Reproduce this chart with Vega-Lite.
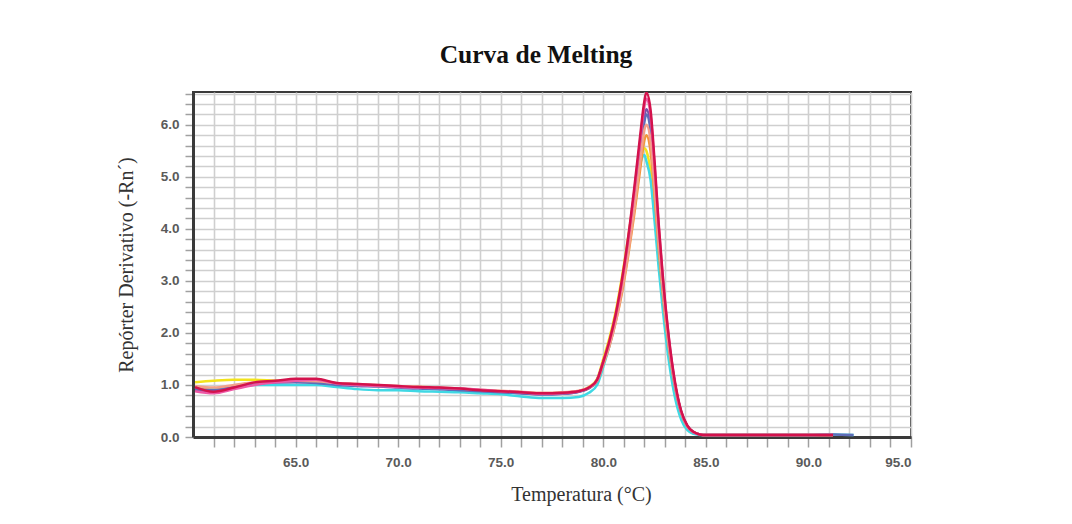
{
  "$schema": "https://vega.github.io/schema/vega-lite/v6.json",
  "autosize": {"type": "none"},
  "width": 718,
  "height": 345,
  "padding": {"left": 193, "top": 92, "right": 161, "bottom": 87},
  "background": "#ffffff",
  "title": {
    "text": "Curva de Melting",
    "font": "Liberation Serif",
    "fontSize": 25.5,
    "fontWeight": "bold",
    "color": "#111111",
    "anchor": "middle",
    "dx": -16,
    "offset": 18
  },
  "data": {
    "values": [
      {"t": 60.1, "a": 1.05, "b": 0.93, "c": 0.95, "d": 0.9, "e": 0.92, "f": 0.98, "g": 0.88, "h": 0.96},
      {"t": 61, "a": 1.08, "b": 0.92, "c": 0.9, "d": 0.87, "e": 0.9, "f": 0.95, "g": 0.84, "h": 0.87},
      {"t": 62, "a": 1.1, "b": 0.97, "c": 0.98, "d": 0.97, "e": 0.96, "f": 1.0, "g": 0.92, "h": 0.95},
      {"t": 63, "a": 1.1, "b": 1.0, "c": 1.04, "d": 1.03, "e": 1.02, "f": 1.05, "g": 1.0, "h": 1.05},
      {"t": 64, "a": 1.08, "b": 1.0, "c": 1.07, "d": 1.05, "e": 1.05, "f": 1.07, "g": 1.05, "h": 1.08},
      {"t": 65, "a": 1.07, "b": 1.0, "c": 1.08, "d": 1.06, "e": 1.05, "f": 1.08, "g": 1.08, "h": 1.12},
      {"t": 66, "a": 1.06, "b": 1.0, "c": 1.06, "d": 1.05, "e": 1.04, "f": 1.07, "g": 1.1, "h": 1.12},
      {"t": 67, "a": 1.02, "b": 0.96, "c": 1.02, "d": 1.03, "e": 1.0, "f": 1.04, "g": 1.03, "h": 1.04},
      {"t": 68, "a": 1.0, "b": 0.92, "c": 1.0, "d": 1.01, "e": 0.98, "f": 1.02, "g": 1.0, "h": 1.02},
      {"t": 69, "a": 0.98, "b": 0.9, "c": 0.99, "d": 0.99, "e": 0.97, "f": 1.0, "g": 0.98, "h": 1.0},
      {"t": 70, "a": 0.97, "b": 0.9, "c": 0.96, "d": 0.97, "e": 0.95, "f": 0.98, "g": 0.96, "h": 0.98},
      {"t": 71, "a": 0.95, "b": 0.88, "c": 0.96, "d": 0.95, "e": 0.93, "f": 0.97, "g": 0.95, "h": 0.96},
      {"t": 72, "a": 0.93, "b": 0.87, "c": 0.94, "d": 0.94, "e": 0.92, "f": 0.95, "g": 0.94, "h": 0.95},
      {"t": 73, "a": 0.91, "b": 0.86, "c": 0.92, "d": 0.92, "e": 0.9, "f": 0.93, "g": 0.93, "h": 0.93},
      {"t": 74, "a": 0.89, "b": 0.84, "c": 0.9, "d": 0.89, "e": 0.88, "f": 0.91, "g": 0.91, "h": 0.9},
      {"t": 75, "a": 0.87, "b": 0.82, "c": 0.88, "d": 0.87, "e": 0.86, "f": 0.89, "g": 0.88, "h": 0.88},
      {"t": 76, "a": 0.85, "b": 0.78, "c": 0.86, "d": 0.84, "e": 0.84, "f": 0.87, "g": 0.86, "h": 0.86},
      {"t": 77, "a": 0.83, "b": 0.75, "c": 0.84, "d": 0.82, "e": 0.82, "f": 0.85, "g": 0.83, "h": 0.84},
      {"t": 78, "a": 0.84, "b": 0.75, "c": 0.85, "d": 0.83, "e": 0.83, "f": 0.86, "g": 0.84, "h": 0.85},
      {"t": 78.8, "a": 0.88, "b": 0.77, "c": 0.88, "d": 0.87, "e": 0.87, "f": 0.89, "g": 0.88, "h": 0.88},
      {"t": 79.3, "a": 0.96, "b": 0.85, "c": 0.94, "d": 0.94, "e": 0.94, "f": 0.95, "g": 0.95, "h": 0.95},
      {"t": 79.7, "a": 1.12, "b": 1.0, "c": 1.08, "d": 1.1, "e": 1.08, "f": 1.08, "g": 1.1, "h": 1.1},
      {"t": 80.0, "a": 1.5, "b": 1.35, "c": 1.4, "d": 1.44, "e": 1.42, "f": 1.4, "g": 1.45, "h": 1.45},
      {"t": 80.3, "a": 1.9, "b": 1.75, "c": 1.75, "d": 1.8, "e": 1.78, "f": 1.75, "g": 1.83, "h": 1.85},
      {"t": 80.6, "a": 2.4, "b": 2.25, "c": 2.2, "d": 2.28, "e": 2.25, "f": 2.2, "g": 2.32, "h": 2.35},
      {"t": 80.9, "a": 3.05, "b": 2.9, "c": 2.75, "d": 2.9, "e": 2.85, "f": 2.8, "g": 2.95, "h": 3.0},
      {"t": 81.2, "a": 3.8, "b": 3.7, "c": 3.45, "d": 3.65, "e": 3.6, "f": 3.5, "g": 3.74, "h": 3.8},
      {"t": 81.5, "a": 4.6, "b": 4.55, "c": 4.25, "d": 4.55, "e": 4.5, "f": 4.35, "g": 4.67, "h": 4.75},
      {"t": 81.8, "a": 5.3, "b": 5.25, "c": 5.15, "d": 5.55, "e": 5.45, "f": 5.3, "g": 5.7, "h": 5.8},
      {"t": 82.0, "a": 5.55, "b": 5.42, "c": 5.7, "d": 6.15, "e": 6.05, "f": 5.9, "g": 6.35, "h": 6.45},
      {"t": 82.1, "a": 5.5, "b": 5.3, "c": 5.8, "d": 6.3, "e": 6.2, "f": 6.0, "g": 6.5, "h": 6.62},
      {"t": 82.3, "a": 5.1, "b": 4.95, "c": 5.5, "d": 6.0, "e": 5.9, "f": 5.7, "g": 6.2, "h": 6.3},
      {"t": 82.5, "a": 4.3, "b": 4.15, "c": 4.65, "d": 5.05, "e": 4.95, "f": 4.8, "g": 5.2, "h": 5.3},
      {"t": 82.7, "a": 3.4, "b": 3.25, "c": 3.62, "d": 3.92, "e": 3.85, "f": 3.75, "g": 4.05, "h": 4.1},
      {"t": 82.9, "a": 2.6, "b": 2.45, "c": 2.75, "d": 2.97, "e": 2.92, "f": 2.85, "g": 3.05, "h": 3.1},
      {"t": 83.2, "a": 1.6, "b": 1.45, "c": 1.7, "d": 1.83, "e": 1.8, "f": 1.75, "g": 1.88, "h": 1.9},
      {"t": 83.5, "a": 0.9, "b": 0.75, "c": 0.95, "d": 1.0, "e": 1.0, "f": 0.98, "g": 1.02, "h": 1.05},
      {"t": 83.8, "a": 0.44, "b": 0.33, "c": 0.46, "d": 0.48, "e": 0.48, "f": 0.47, "g": 0.48, "h": 0.5},
      {"t": 84.1, "a": 0.19, "b": 0.13, "c": 0.2, "d": 0.21, "e": 0.21, "f": 0.2, "g": 0.21, "h": 0.22},
      {"t": 84.4, "a": 0.08, "b": 0.06, "c": 0.09, "d": 0.09, "e": 0.09, "f": 0.09, "g": 0.09, "h": 0.1},
      {"t": 84.7, "a": 0.05, "b": 0.04, "c": 0.05, "d": 0.05, "e": 0.05, "f": 0.05, "g": 0.05, "h": 0.05},
      {"t": 85.0, "a": 0.04, "b": 0.04, "c": 0.04, "d": 0.04, "e": 0.04, "f": 0.04, "g": 0.04, "h": 0.04},
      {"t": 86, "a": 0.04, "b": 0.04, "c": 0.04, "d": 0.04, "e": 0.04, "f": 0.04, "g": 0.04, "h": 0.04},
      {"t": 88, "a": 0.04, "b": 0.04, "c": 0.04, "d": 0.04, "e": 0.04, "f": 0.04, "g": 0.04, "h": 0.04},
      {"t": 90, "a": 0.04, "b": 0.04, "c": 0.04, "d": 0.04, "e": 0.04, "f": 0.04, "g": 0.04, "h": 0.04},
      {"t": 91.2, "a": 0.04, "b": 0.05, "c": 0.04, "d": 0.04, "e": 0.05, "f": 0.04, "g": 0.04, "h": 0.04},
      {"t": 92.2, "a": null, "b": 0.04, "c": null, "d": null, "e": 0.04, "f": null, "g": null, "h": null}
    ]
  },
  "transform": [
    {"fold": ["a", "b", "c", "d", "e", "f", "g", "h"], "as": ["amostra", "valor"]}
  ],
  "mark": {"type": "line", "strokeWidth": 2.5, "interpolate": "monotone", "clip": true},
  "encoding": {
    "x": {
      "field": "t",
      "type": "quantitative",
      "scale": {"domain": [60, 95], "nice": false, "zero": false},
      "axis": {
        "title": "Temperatura (°C)",
        "values": [61, 62, 63, 64, 65, 66, 67, 68, 69, 70, 71, 72, 73, 74, 75, 76, 77, 78, 79, 80, 81, 82, 83, 84, 85, 86, 87, 88, 89, 90, 91, 92, 93, 94, 95],
        "labelExpr": "datum.value % 5 === 0 ? format(datum.value, '.1f') : ''",
        "titleX": 388,
        "titleY": 63,
        "titleBaseline": "alphabetic",
        "tickSize": 10,
        "labelPadding": 8
      }
    },
    "y": {
      "field": "valor",
      "type": "quantitative",
      "scale": {"domain": [0, 6.63], "nice": false},
      "axis": {
        "title": "Repórter Derivativo (-Rn´)",
        "values": [0, 0.2, 0.4, 0.6, 0.8, 1, 1.2, 1.4, 1.6, 1.8, 2, 2.2, 2.4, 2.6, 2.8, 3, 3.2, 3.4, 3.6, 3.8, 4, 4.2, 4.4, 4.6, 4.8, 5, 5.2, 5.4, 5.6, 5.8, 6, 6.2, 6.4, 6.6],
        "labelExpr": "abs(datum.value - round(datum.value)) < 0.01 ? format(datum.value, '.1f') : ''",
        "titlePadding": 24,
        "tickSize": 8,
        "labelPadding": 6
      }
    },
    "color": {
      "field": "amostra",
      "type": "nominal",
      "legend": null,
      "scale": {
        "domain": ["a", "b", "c", "d", "e", "f", "g", "h"],
        "range": ["#f2e31c", "#3fd8e4", "#f2963a", "#7b4fa6", "#5f6cb8", "#f3a08a", "#ee58a6", "#d3124c"]
      }
    }
  },
  "config": {
    "view": {"stroke": "#3a3a3a", "strokeWidth": 2},
    "axis": {
      "grid": true,
      "gridColor": "#cfcfcf",
      "gridWidth": 1.6,
      "domainColor": "#3a3a3a",
      "domainWidth": 3,
      "tickColor": "#a0a0a0",
      "tickWidth": 1.5,
      "labelFont": "Liberation Sans",
      "labelFontSize": 13.5,
      "labelFontWeight": "bold",
      "labelColor": "#5a5a5a",
      "titleFont": "Liberation Serif",
      "titleFontSize": 20,
      "titleFontWeight": "normal",
      "titleColor": "#333333",
      "labelOverlap": false
    }
  }
}
